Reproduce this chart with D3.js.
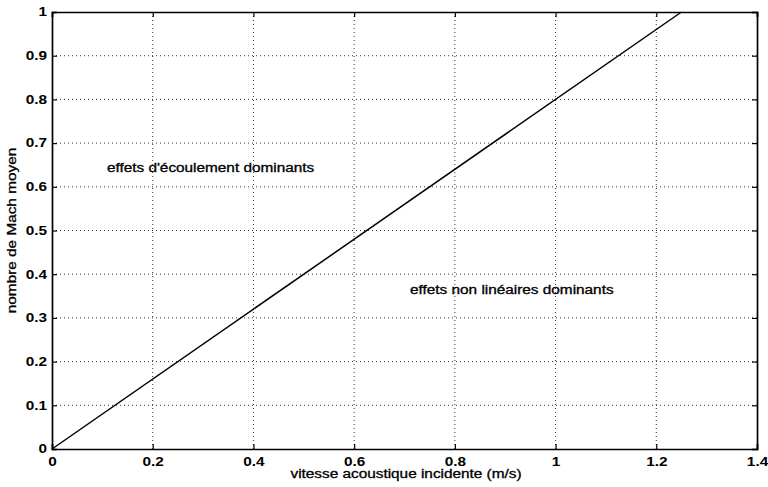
<!DOCTYPE html>
<html>
<head>
<meta charset="utf-8">
<script src="https://cdn.jsdelivr.net/npm/d3@7/dist/d3.min.js"></script>
<style>
  html, body { margin: 0; padding: 0; background: #fff; }
  svg { display: block; font-family: "Liberation Sans", Arial, sans-serif; }
</style>
</head>
<body>
<svg id="chart" width="768" height="487"></svg>
<script>
// Incident acoustic velocity (m/s) vs. mean Mach number boundary
const velocity = [0, 1.25];
const mach = [0, 1.0];
const xTicks = [0, 0.2, 0.4, 0.6, 0.8, 1, 1.2, 1.4];
const yTicks = [0, 0.1, 0.2, 0.3, 0.4, 0.5, 0.6, 0.7, 0.8, 0.9, 1];
const regionLabels = ["effets d'écoulement dominants", "effets non linéaires dominants"];
const regionPos = [[0.109, 0.643], [0.711, 0.364]];

const margin = { top: 12, right: 11, bottom: 38, left: 52 };
const W = 768, H = 487;
const w = W - margin.left - margin.right;
const h = H - margin.top - margin.bottom;
const stretch = 1.28;   // wide lettering

const svg = d3.select("#chart");
const g = svg.append("g").attr("transform", `translate(${margin.left},${margin.top})`);

const x = d3.scaleLinear().domain([0, 1.4]).range([0, w]);
const y = d3.scaleLinear().domain([0, 1]).range([h, 0]);

// dotted grid
g.append("g").selectAll("line").data(xTicks.slice(1, -1)).join("line")
  .attr("x1", d => x(d)).attr("x2", d => x(d)).attr("y1", 0).attr("y2", h)
  .attr("stroke", "#000").attr("stroke-width", 0.8).attr("stroke-dasharray", "1,3");
g.append("g").selectAll("line").data(yTicks.slice(1, -1)).join("line")
  .attr("y1", d => y(d)).attr("y2", d => y(d)).attr("x1", 0).attr("x2", w)
  .attr("stroke", "#000").attr("stroke-width", 0.8).attr("stroke-dasharray", "1,3");

// axes with inward ticks on all four sides
const fmt = d3.format("");
const axBottom = g.append("g").attr("transform", `translate(0,${h})`)
  .call(d3.axisBottom(x).tickValues(xTicks).tickSize(-5).tickPadding(8).tickFormat(fmt));
const axLeft = g.append("g")
  .call(d3.axisLeft(y).tickValues(yTicks).tickSize(-5).tickPadding(5).tickFormat(fmt));
const axTop = g.append("g")
  .call(d3.axisTop(x).tickValues(xTicks).tickSize(-5).tickFormat(""));
const axRight = g.append("g").attr("transform", `translate(${w},0)`)
  .call(d3.axisRight(y).tickValues(yTicks).tickSize(-5).tickFormat(""));

[axBottom, axLeft, axTop, axRight].forEach(a => {
  a.select(".domain").attr("stroke", "#000").attr("stroke-width", 1.7);
  a.selectAll(".tick line").attr("stroke", "#000").attr("stroke-width", 1.2);
  a.selectAll("text").attr("fill", "#000").attr("font-size", 12)
    .attr("font-family", "'Liberation Sans', Arial, sans-serif").attr("font-weight", "bold")
    .attr("transform", `scale(${stretch},1)`);
});
axLeft.selectAll("text").attr("x", -5 / stretch);

// boundary line
g.append("path")
  .datum(velocity.map((v, i) => [v, mach[i]]))
  .attr("fill", "none").attr("stroke", "#000").attr("stroke-width", 1.5)
  .attr("d", d3.line().x(d => x(d[0])).y(d => y(d[1])));

// helper for stretched free text
function label(parent, tx, ty, rot, sx, txt, anchor) {
  parent.append("g")
    .attr("transform", `translate(${tx},${ty}) rotate(${rot})`)
    .append("text")
    .attr("transform", `scale(${sx},1)`)
    .attr("text-anchor", anchor)
    .attr("dy", "0.35em")
    .attr("font-size", 12)
    .attr("fill", "#000").attr("stroke", "#000").attr("stroke-width", 0.3)
    .text(txt);
}

// region labels
regionLabels.forEach((t, i) =>
  label(g, x(regionPos[i][0]), y(regionPos[i][1]), 0, stretch, t, "start"));

// axis titles
label(svg, 406, 474, 0, stretch, "vitesse acoustique incidente (m/s)", "middle");
label(svg, 12, margin.top + h / 2, -90, stretch, "nombre de Mach moyen", "middle");
</script>
</body>
</html>
